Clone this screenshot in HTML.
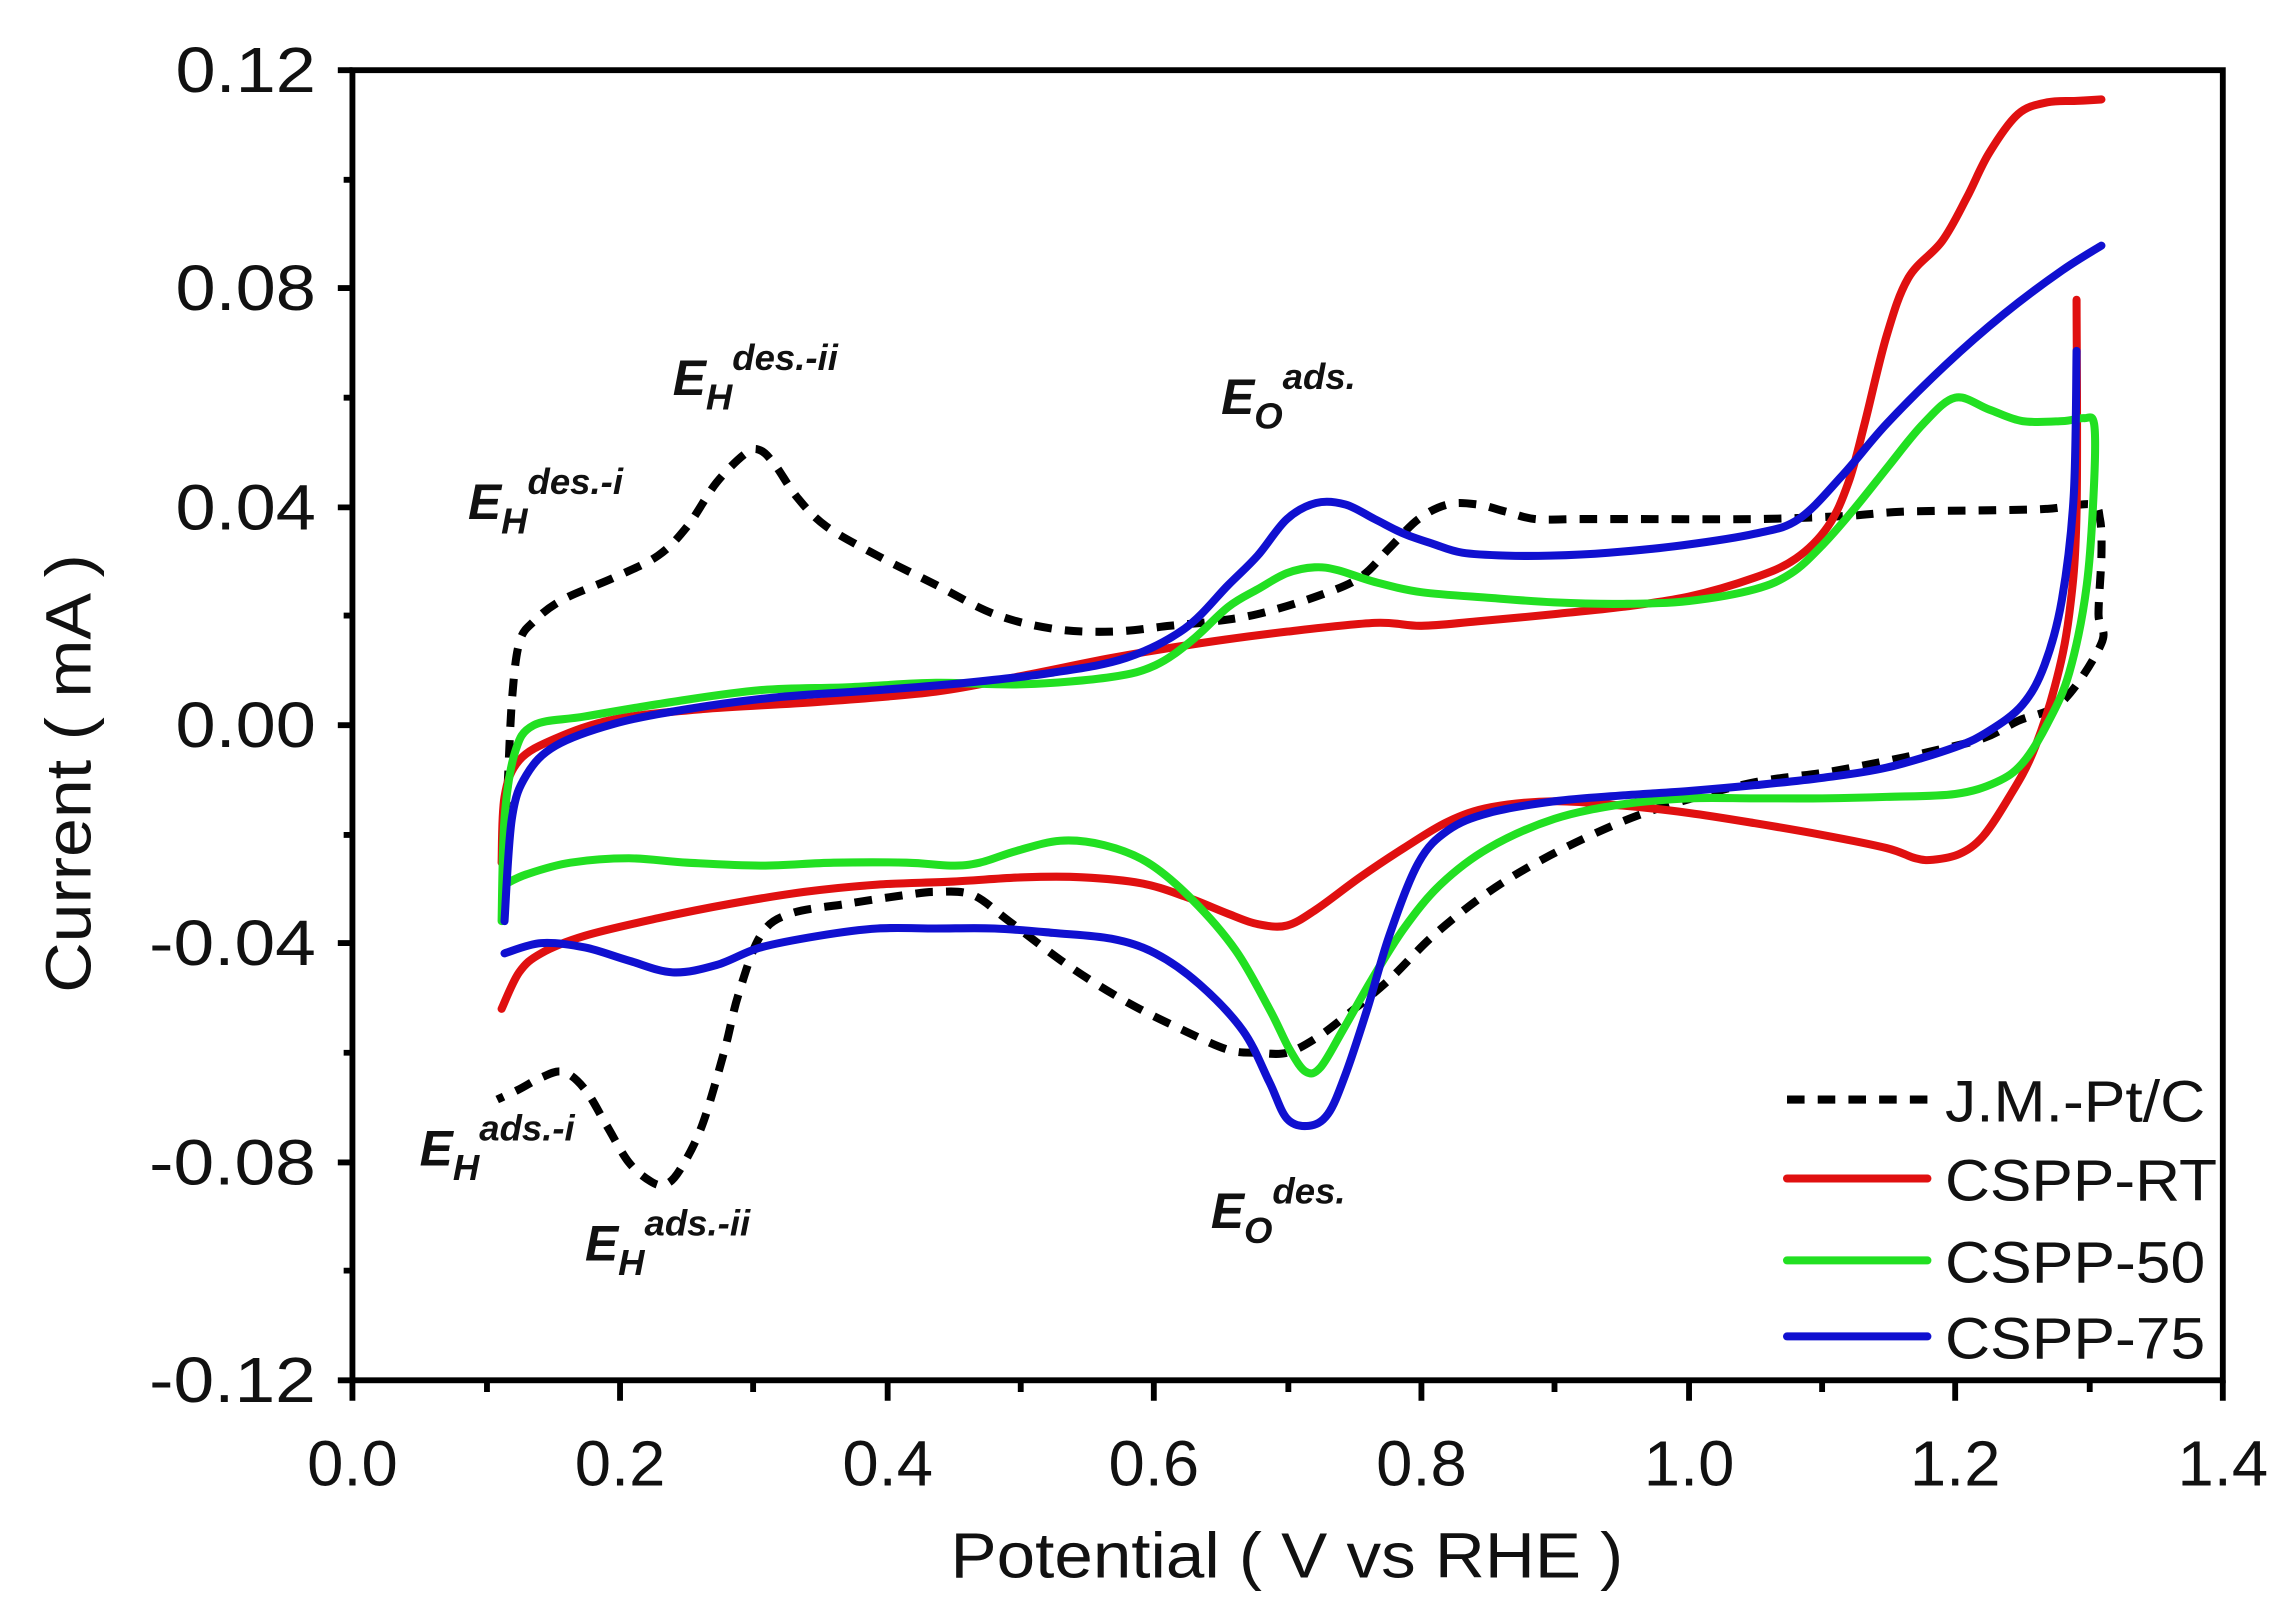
<!DOCTYPE html>
<html><head><meta charset="utf-8"><style>
html,body{margin:0;padding:0;background:#fff;}
svg{display:block;}
text{font-family:"Liberation Sans",sans-serif;}
.lab{font-family:"Liberation Sans",sans-serif;font-weight:bold;font-style:italic;fill:#111;}
</style></head><body>
<svg id="s" width="2293" height="1623" viewBox="0 0 1568 1110" preserveAspectRatio="none" xmlns="http://www.w3.org/2000/svg">
<rect width="1568" height="1110" fill="#fff"/>
<g fill="none" stroke-linejoin="round" stroke-linecap="round" stroke-width="5.5">
<path id="k" stroke="#000" stroke-dasharray="12,9" stroke-linecap="butt" stroke-width="5.5"/>
<path id="r1" stroke="#e01010"/><path id="r2" stroke="#e01010"/>
<path id="g1" stroke="#22e022"/>
<path id="b1" stroke="#1010d0"/><path id="b2" stroke="#1010d0"/>
</g>
<g stroke="#000" stroke-width="4" fill="none">
<rect x="241" y="48" width="1279" height="896"/>
<path d="M231,48H241 M231,197H241 M231,347H241 M231,496H241 M231,645H241 M231,795H241 M231,944H241"/>
<path d="M235,123H241 M235,272H241 M235,421H241 M235,571H241 M235,720H241 M235,869H241"/>
<path d="M241,944V958 M424,944V958 M607,944V958 M789,944V958 M972,944V958 M1155,944V958 M1337,944V958 M1520,944V958"/>
<path d="M333,944V952 M515,944V952 M698,944V952 M881,944V952 M1063,944V952 M1246,944V952 M1429,944V952"/>
</g>
<g font-size="44" fill="#111" text-anchor="end">
<text x="216" y="63" textLength="96" lengthAdjust="spacingAndGlyphs">0.12</text>
<text x="216" y="212" textLength="96" lengthAdjust="spacingAndGlyphs">0.08</text>
<text x="216" y="362" textLength="96" lengthAdjust="spacingAndGlyphs">0.04</text>
<text x="216" y="511" textLength="96" lengthAdjust="spacingAndGlyphs">0.00</text>
<text x="216" y="660" textLength="114" lengthAdjust="spacingAndGlyphs">-0.04</text>
<text x="216" y="810" textLength="114" lengthAdjust="spacingAndGlyphs">-0.08</text>
<text x="216" y="959" textLength="114" lengthAdjust="spacingAndGlyphs">-0.12</text>
</g>
<g font-size="44" fill="#111" text-anchor="middle">
<text x="241" y="1016" textLength="62" lengthAdjust="spacingAndGlyphs">0.0</text><text x="424" y="1016" textLength="62" lengthAdjust="spacingAndGlyphs">0.2</text><text x="607" y="1016" textLength="62" lengthAdjust="spacingAndGlyphs">0.4</text><text x="789" y="1016" textLength="62" lengthAdjust="spacingAndGlyphs">0.6</text><text x="972" y="1016" textLength="62" lengthAdjust="spacingAndGlyphs">0.8</text><text x="1155" y="1016" textLength="62" lengthAdjust="spacingAndGlyphs">1.0</text><text x="1337" y="1016" textLength="62" lengthAdjust="spacingAndGlyphs">1.2</text><text x="1520" y="1016" textLength="62" lengthAdjust="spacingAndGlyphs">1.4</text>
<text x="880" y="1079" textLength="460" lengthAdjust="spacingAndGlyphs">Potential ( V vs RHE )</text>
<text transform="translate(62,529) rotate(-90)" textLength="300" lengthAdjust="spacingAndGlyphs">Current ( mA )</text>
</g>
<g stroke-width="5.5" stroke-linecap="round">
<path d="M1222,752H1318" stroke="#000" stroke-dasharray="12,9" stroke-linecap="butt"/>
<path d="M1222,806H1318" stroke="#e01010"/>
<path d="M1222,862H1318" stroke="#22e022"/>
<path d="M1222,914H1318" stroke="#1010d0"/>
</g>
<g font-size="40" fill="#111">
<text x="1330" y="767" textLength="178" lengthAdjust="spacingAndGlyphs">J.M.-Pt/C</text>
<text x="1330" y="821" textLength="186" lengthAdjust="spacingAndGlyphs">CSPP-RT</text>
<text x="1330" y="877" textLength="178" lengthAdjust="spacingAndGlyphs">CSPP-50</text>
<text x="1330" y="929" textLength="178" lengthAdjust="spacingAndGlyphs">CSPP-75</text>
</g>
<g class="lab" font-size="34">
<text x="460" y="270">E<tspan font-size="25" dy="10">H</tspan><tspan font-size="25" dy="-27">des.-ii</tspan></text>
<text x="320" y="355">E<tspan font-size="25" dy="10">H</tspan><tspan font-size="25" dy="-27">des.-i</tspan></text>
<text x="835" y="283">E<tspan font-size="25" dy="10">O</tspan><tspan font-size="25" dy="-27">ads.</tspan></text>
<text x="287" y="797">E<tspan font-size="25" dy="10">H</tspan><tspan font-size="25" dy="-27">ads.-i</tspan></text>
<text x="400" y="862">E<tspan font-size="25" dy="10">H</tspan><tspan font-size="25" dy="-27">ads.-ii</tspan></text>
<text x="828" y="840">E<tspan font-size="25" dy="10">O</tspan><tspan font-size="25" dy="-27">des.</tspan></text>
</g>
</svg>
<script>
function sm(p){var d="M"+p[0][0]+","+p[0][1];for(var i=0;i<p.length-1;i++){var a=p[i-1]||p[i],b=p[i],c=p[i+1],e=p[i+2]||c;
var c1x=b[0]+(c[0]-a[0])/6,c1y=b[1]+(c[1]-a[1])/6,c2x=c[0]-(e[0]-b[0])/6,c2y=c[1]-(e[1]-b[1])/6;
d+=" C"+c1x.toFixed(1)+","+c1y.toFixed(1)+" "+c2x.toFixed(1)+","+c2y.toFixed(1)+" "+c[0]+","+c[1];}return d;}
var S={
k:[[345,560],[347,540],[350,480],[355,440],[365,425],[385,410],[420,395],[450,380],[470,360],[490,330],[510,310],[520,308],[530,318],[545,340],[565,360],[600,380],[640,400],[680,420],[720,430],[760,432],[800,428],[830,425],[860,420],[900,408],[930,395],[950,375],[970,355],[990,345],[1010,345],[1030,350],[1050,355],[1080,355],[1120,355],[1200,355],[1260,353],[1300,350],[1360,349],[1400,348],[1430,345],[1436,355],[1437,380],[1435,420],[1437,440],[1410,480],[1380,493],[1356,505],[1320,514],[1292,520],[1250,528],[1200,535],[1150,548],[1109,562],[1060,585],[1018,610],[980,640],[950,670],[920,695],[900,710],[880,720],[860,720],[840,718],[810,705],[770,685],[730,660],[690,630],[665,612],[640,610],[620,612],[580,618],[540,625],[520,640],[505,680],[495,720],[480,770],[465,800],[455,810],[445,808],[430,795],[415,770],[400,745],[385,733],[370,737],[355,745],[340,752]],
r1:[[343,590],[345,545],[355,520],[380,505],[420,492],[480,485],[560,480],[640,473],[700,462],[760,450],[820,440],[880,432],[940,426],[972,428],[1010,425],[1063,420],[1110,415],[1155,408],[1200,395],[1228,382],[1250,360],[1264,330],[1275,290],[1290,230],[1305,190],[1328,165],[1345,135],[1360,105],[1380,78],[1400,70],[1420,69],[1437,68]],
r2:[[1420,205],[1420,350],[1415,420],[1405,470],[1390,515],[1374,545],[1356,572],[1340,584],[1322,588],[1310,587],[1290,580],[1246,571],[1200,563],[1155,556],[1110,551],[1063,548],[1020,552],[990,562],[960,580],[930,600],[900,622],[880,633],[860,632],[840,625],[810,613],[780,604],[740,600],[700,600],[650,603],[600,605],[550,610],[500,618],[450,628],[400,640],[370,652],[355,665],[343,690]],
g1:[[345,605],[360,598],[390,590],[430,587],[470,590],[520,592],[570,590],[620,590],[650,592],[670,590],[695,582],[725,575],[755,578],[785,590],[815,615],[845,650],[868,690],[882,718],[893,733],[903,730],[918,705],[938,670],[960,635],[985,605],[1018,580],[1063,560],[1110,550],[1155,546],[1200,546],[1246,546],[1290,545],[1337,543],[1365,535],[1383,522],[1400,495],[1415,460],[1427,400],[1432,330],[1432,290],[1425,286],[1410,288],[1383,288],[1360,280],[1337,272],[1315,290],[1292,318],[1268,348],[1246,373],[1225,392],[1200,403],[1155,411],[1110,413],[1063,412],[1020,409],[972,405],[940,398],[915,390],[899,388],[880,392],[860,403],[840,415],[815,438],[790,455],[760,463],[700,468],[640,467],[580,470],[520,472],[460,480],[400,490],[365,496],[352,515],[345,560],[343,630]],
b1:[[345,630],[350,560],[360,530],[380,510],[420,495],[470,485],[530,477],[600,472],[660,467],[720,460],[770,450],[810,430],[840,400],[860,380],[880,355],[900,344],[920,345],[940,355],[960,365],[980,372],[1000,378],[1030,380],[1060,380],[1100,378],[1150,373],[1200,365],[1230,355],[1260,325],[1290,290],[1330,250],[1370,215],[1410,185],[1437,168]],
b2:[[1420,240],[1418,340],[1410,410],[1398,455],[1383,482],[1360,500],[1337,511],[1290,525],[1246,532],[1200,537],[1155,541],[1110,544],[1063,548],[1018,556],[990,568],[970,590],[950,640],[935,690],[920,735],[908,762],[895,770],[880,765],[868,740],[850,705],[820,673],[790,652],[760,642],[720,638],[680,635],[640,635],[600,635],[560,640],[520,648],[490,660],[460,665],[430,657],[400,648],[370,645],[345,652]]};
for(var k in S)document.getElementById(k).setAttribute("d",sm(S[k]));
</script>
</body></html>
